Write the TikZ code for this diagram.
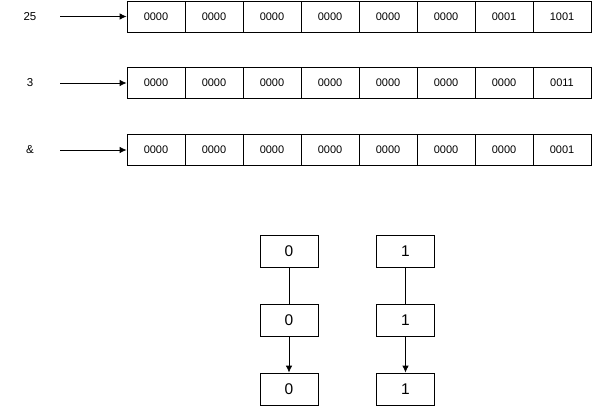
\documentclass[tikz,border=0pt]{standalone}
\usepackage{fontspec}
\setmainfont{Liberation Sans}
\usetikzlibrary{arrows.meta}

\tikzset{
  cell/.style={draw,line width=0.8pt,minimum width=58pt,minimum height=31pt,inner sep=0pt,
    font=\fontsize{11}{13}\selectfont},
  bit/.style={draw,line width=0.8pt,minimum width=58pt,minimum height=32pt,inner sep=0pt,
    font=\fontsize{15.5}{18}\selectfont},
  lab/.style={font=\fontsize{11.5}{13}\selectfont},
  arr/.style={-{Latex[length=7pt,width=6.5pt]},line width=0.8pt}
}

\begin{document}
\begin{tikzpicture}[x=1pt,y=-1pt]

\useasboundingbox (0,0) rectangle (592,406);

% rows of nibbles
\node[cell] (A1) at (156,16.5) {0000};
\node[cell] (A2) at (214,16.5) {0000};
\node[cell] (A3) at (272,16.5) {0000};
\node[cell] (A4) at (330,16.5) {0000};
\node[cell] (A5) at (388,16.5) {0000};
\node[cell] (A6) at (446,16.5) {0000};
\node[cell] (A7) at (504,16.5) {0001};
\node[cell] (A8) at (562,16.5) {1001};

\node[cell] (B1) at (156,83) {0000};
\node[cell] (B2) at (214,83) {0000};
\node[cell] (B3) at (272,83) {0000};
\node[cell] (B4) at (330,83) {0000};
\node[cell] (B5) at (388,83) {0000};
\node[cell] (B6) at (446,83) {0000};
\node[cell] (B7) at (504,83) {0000};
\node[cell] (B8) at (562,83) {0011};

\node[cell] (C1) at (156,150) {0000};
\node[cell] (C2) at (214,150) {0000};
\node[cell] (C3) at (272,150) {0000};
\node[cell] (C4) at (330,150) {0000};
\node[cell] (C5) at (388,150) {0000};
\node[cell] (C6) at (446,150) {0000};
\node[cell] (C7) at (504,150) {0000};
\node[cell] (C8) at (562,150) {0001};

% labels
\node[lab] (LA) at (30,16.5) {25};
\node[lab] (LB) at (30,83) {3};
\node[lab] (LC) at (30,150) {\&};

\coordinate (SA) at (60,16.5);
\coordinate (SB) at (60,83);
\coordinate (SC) at (60,150);

\draw[arr] (SA) -- (A1.west);
\draw[arr] (SB) -- (B1.west);
\draw[arr] (SC) -- (C1.west);

% bits
\node[bit] (T0) at (289,251) {0};
\node[bit] (M0) at (289,320) {0};
\node[bit] (D0) at (289,389) {0};

\node[bit] (T1) at (405.5,251) {1};
\node[bit] (M1) at (405.5,320) {1};
\node[bit] (D1) at (405.5,389) {1};

\draw[line width=0.8pt] (T0) -- (M0);
\draw[arr] (M0) -- (D0);
\draw[line width=0.8pt] (T1) -- (M1);
\draw[arr] (M1) -- (D1);

\end{tikzpicture}
\end{document}
